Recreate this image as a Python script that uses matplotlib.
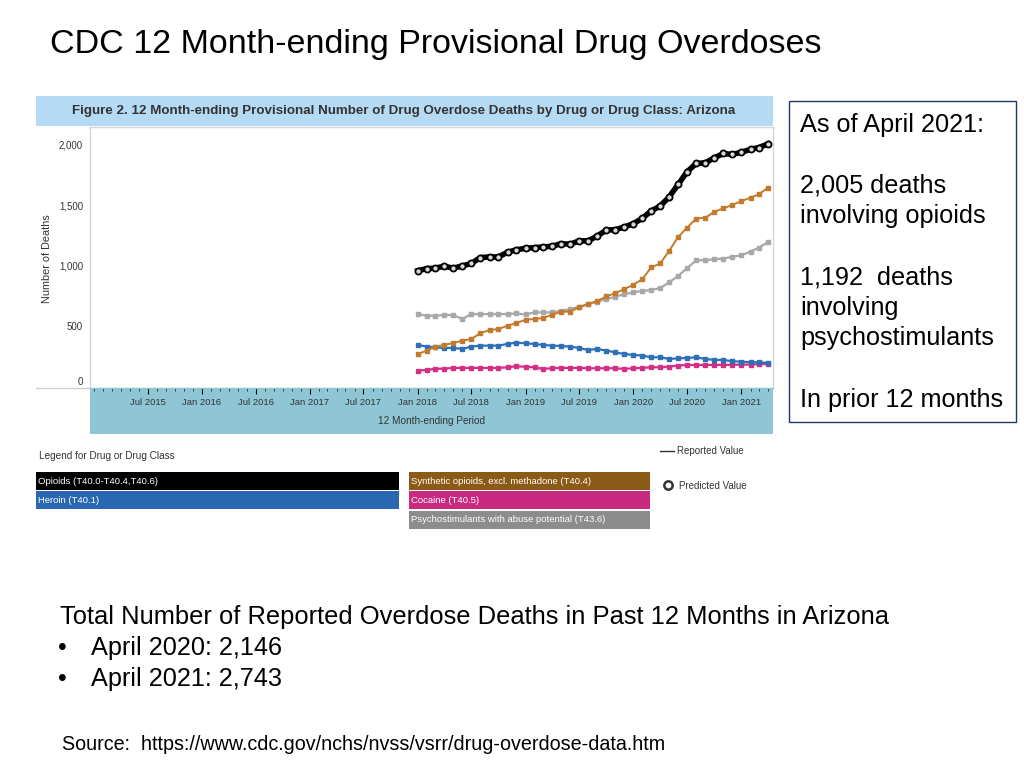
import matplotlib
matplotlib.use('Agg')
import matplotlib.pyplot as plt
import matplotlib.dates as mdates
import pandas as pd
from matplotlib.patches import Rectangle
from matplotlib import font_manager

# ---------------- data ----------------
months = pd.date_range('2018-01-01', periods=40, freq='MS')

opioids = [957, 975, 978, 995, 978, 997, 1017, 1066, 1071, 1071,
           1110, 1130, 1143, 1148, 1154, 1159, 1181, 1176, 1204, 1204,
           1244, 1292, 1297, 1318, 1346, 1391, 1451, 1492, 1566, 1671,
           1775, 1844, 1849, 1890, 1926, 1918, 1937, 1960, 1975, 2005]
synthetic = [269, 297, 330, 344, 360, 379, 393, 440, 467, 475,
             503, 525, 552, 558, 566, 594, 618, 620, 654, 682,
             706, 745, 772, 805, 841, 888, 984, 1017, 1121, 1237,
             1313, 1388, 1396, 1443, 1473, 1500, 1533, 1561, 1589, 1643]
psychostim = [599, 585, 585, 591, 591, 558, 599, 599, 599, 599,
              599, 604, 596, 613, 613, 613, 625, 640, 660, 680,
              702, 723, 742, 764, 778, 791, 797, 814, 860, 915,
              978, 1044, 1044, 1052, 1058, 1072, 1085, 1115, 1148, 1192]
heroin = [344, 330, 324, 319, 319, 311, 330, 338, 338, 338,
          352, 363, 357, 352, 344, 338, 335, 330, 319, 302,
          311, 297, 283, 269, 261, 256, 242, 242, 228, 233,
          236, 242, 228, 220, 220, 209, 206, 201, 201, 195]
cocaine = [132, 137, 146, 148, 154, 154, 154, 154, 154, 154,
           159, 168, 163, 159, 146, 151, 154, 154, 154, 151,
           151, 151, 151, 146, 151, 154, 159, 159, 165, 173,
           179, 178, 179, 179, 179, 180, 181, 182, 184, 187]

tick_dates = pd.to_datetime(['2015-07-01', '2016-01-01', '2016-07-01', '2017-01-01',
                             '2017-07-01', '2018-01-01', '2018-07-01', '2019-01-01',
                             '2019-07-01', '2020-01-01', '2020-07-01', '2021-01-01'])
tick_labels = ['Jul 2015', 'Jan 2016', 'Jul 2016', 'Jan 2017', 'Jul 2017', 'Jan 2018',
               'Jul 2018', 'Jan 2019', 'Jul 2019', 'Jan 2020', 'Jul 2020', 'Jan 2021']
y_ticks = [0, 500, 1000, 1500, 2000]
y_labels = ['0', '500', '1,000', '1,500', '2,000']

legend_left = [('Opioids (T40.0-T40.4,T40.6)', '#000000'),
               ('Heroin (T40.1)', '#2a67b1')]
legend_right = [('Synthetic opioids, excl. methadone (T40.4)', '#8b5a17'),
                ('Cocaine (T40.5)', '#c92a80'),
                ('Psychostimulants with abuse potential (T43.6)', '#8c8c8c')]

box_lines = ['As of April 2021:', '', '2,005 deaths', 'involving opioids', '',
             '1,192  deaths', 'involving', 'psychostimulants', '', 'In prior 12 months']
bottom_title = 'Total Number of Reported Overdose Deaths in Past 12 Months in Arizona'
bottom_items = ['April 2020: 2,146', 'April 2021: 2,743']

# ---------------- fonts ----------------
names = {f.name for f in font_manager.fontManager.ttflist}
HAS_NARROW = 'Liberation Sans Narrow' in names
NARROW = ['Liberation Sans Narrow', 'Liberation Sans'] if HAS_NARROW else ['Liberation Sans']
k = 1.15 if HAS_NARROW else 1.0   # size factor when narrow face exists
plt.rcParams['font.family'] = ['Liberation Sans', 'DejaVu Sans']

W, H = 1024, 768
fig = plt.figure(figsize=(W / 100, H / 100), dpi=100)
fig.patch.set_facecolor('white')

# overlay in pixel coordinates
ov = fig.add_axes([0, 0, 1, 1])
ov.set_xlim(0, W)
ov.set_ylim(H, 0)
ov.axis('off')
ov.set_zorder(0)

# slide title
ov.text(50, 44, 'CDC 12 Month-ending Provisional Drug Overdoses', fontsize=24.5,
        va='center', ha='left', color='black')

# figure title bar
ov.add_patch(Rectangle((36, 96), 737, 30, facecolor='#b5daf4', edgecolor='none'))
ov.text(404, 111, 'Figure 2. 12 Month-ending Provisional Number of Drug Overdose Deaths by Drug or Drug Class: Arizona',
        fontsize=9.6 * k, fontweight='bold',
        family=NARROW, ha='center', va='center', color='#333333')

# x-axis band
ov.add_patch(Rectangle((90, 388), 683, 46, facecolor='#8fc6d6', edgecolor='none'))
ov.plot([36, 90], [388, 388], color='#cfcfcf', lw=1)
ov.text(431, 421, '12 Month-ending Period', fontsize=7.2 * k, family=NARROW,
        ha='center', va='center', color='#333333')
ov.text(47, 259, 'Number of Deaths', fontsize=7.8 * k, family=NARROW, rotation=90,
        ha='center', va='center', color='#333333')

# ---------------- main chart ----------------
ax = fig.add_axes([90 / W, (H - 388) / H, 683 / W, 261 / H])
ax.set_zorder(1)
ax.set_facecolor('white')
for s in ax.spines.values():
    s.set_color('#d6d6d6')
    s.set_linewidth(1)
ax.spines['bottom'].set_color('#8fc6d6')

ax.plot(months, cocaine, color='#d42f86', lw=1.6, marker='s', ms=2.4, zorder=3)
ax.plot(months, heroin, color='#2e70b8', lw=1.6, marker='s', ms=2.4, zorder=3)
ax.plot(months, psychostim, color='#a8a8a8', lw=1.6, marker='s', ms=2.4, zorder=3)
ax.plot(months, synthetic, color='#c27a2c', lw=1.4, marker='s', ms=2.4, zorder=4)
ax.plot(months, opioids, color='black', lw=4.0, marker='o', ms=4.4,
        mfc='#d8d8d8', mec='black', mew=1.3, zorder=5)

ax.set_xlim(pd.Timestamp('2014-12-18'), pd.Timestamp('2021-04-18'))
ax.set_ylim(-12, 2145)
ax.set_yticks(y_ticks)
ax.set_yticklabels(y_labels)
ax.set_xticks(tick_dates)
ax.set_xticklabels(tick_labels)
ax.xaxis.set_minor_locator(mdates.MonthLocator())
ax.tick_params(axis='y', length=0, pad=5, labelsize=7.0 * k, labelcolor='#333333')
ax.tick_params(axis='x', which='major', length=4, width=0.8, color='black', pad=3,
               labelsize=6.8 * k, labelcolor='#333333', direction='out')
ax.tick_params(axis='x', which='minor', length=2, width=0.6, color='#222222', direction='out')
for lab in ax.get_xticklabels() + ax.get_yticklabels():
    lab.set_family(NARROW)
ax.get_yticklabels()[0].set_va('bottom')

# ---------------- legend ----------------
ov.text(39, 456, 'Legend for Drug or Drug Class', fontsize=7.2 * k, family=NARROW,
        ha='left', va='center', color='#333333')
for i, (lab, col) in enumerate(legend_left):
    y0 = 472 + i * 19.3
    ov.add_patch(Rectangle((36, y0), 363, 18, facecolor=col, edgecolor='none'))
    ov.text(38, y0 + 9, lab, fontsize=6.8 * k, family=NARROW, color='white', ha='left', va='center')
for i, (lab, col) in enumerate(legend_right):
    y0 = 472 + i * 19.3
    ov.add_patch(Rectangle((409, y0), 241, 18, facecolor=col, edgecolor='none'))
    ov.text(411, y0 + 9, lab, fontsize=6.8 * k, family=NARROW, color='white', ha='left', va='center')
ov.plot([660, 674], [451, 451], color='#333333', lw=1)
ov.text(677, 451, 'Reported Value', fontsize=7.0 * k, family=NARROW, ha='left', va='center', color='#333333')
ov.plot([668], [485], marker='o', ms=6, mfc='white', mec='#333333', mew=1.8)
ov.text(679, 486, 'Predicted Value', fontsize=7.0 * k, family=NARROW, ha='left', va='center', color='#333333')

# ---------------- right text box ----------------
ov.add_patch(Rectangle((789, 101), 227, 321, facecolor='white', edgecolor='#1f3864', lw=1))
for i, line in enumerate(box_lines):
    ov.text(800, 125 + i * 30.5, line, fontsize=18.2, ha='left', va='center', color='black')

# ---------------- bottom text ----------------
ov.text(60, 617, bottom_title, fontsize=18.4, ha='left', va='center', color='black')
for i, item in enumerate(bottom_items):
    y = 648 + i * 31
    ov.text(58, y, '\u2022', fontsize=18, ha='left', va='center', color='black')
    ov.text(91, y, item, fontsize=18.2, ha='left', va='center', color='black')
ov.text(62, 744, 'Source:  https://www.cdc.gov/nchs/nvss/vsrr/drug-overdose-data.htm',
        fontsize=14.2, ha='left', va='center', color='black')

fig.savefig('out.png', dpi=100)
